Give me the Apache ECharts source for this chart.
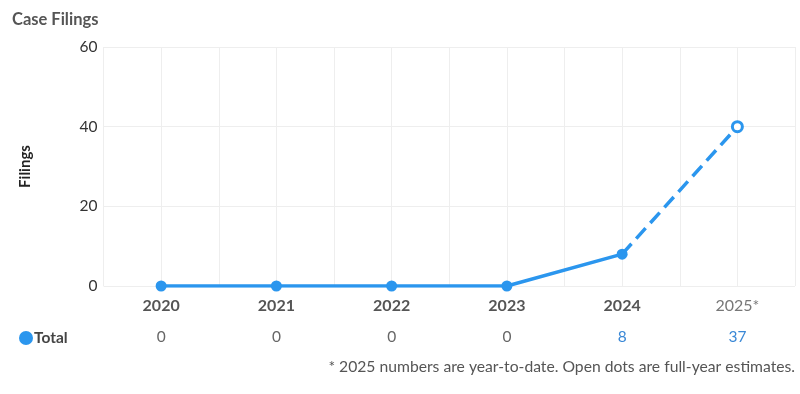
<!DOCTYPE html>
<html><head><meta charset="utf-8">
<script src="https://cdn.jsdelivr.net/npm/echarts@6/dist/echarts.min.js"></script>
<style>html,body{margin:0;padding:0;background:#fff}#c{width:800px;height:394px}</style>
</head><body><div id="c"></div>
<script>
const categories = ['2020','2021','2022','2023','2024','2025*'];
const actualValues = [0,0,0,0,8,null];
const estimateValues = [null,null,null,null,8,40];
const totals = ['0','0','0','0','8','37'];
const yTicks = [0,20,40,60];
const footnote = '* 2025 numbers are year-to-date. Open dots are full-year estimates.';

const BLUE = '#2b96ee';
const chart = echarts.init(document.getElementById('c'));
chart.setOption({
  animation:false,
  textStyle:{fontFamily:'Lato'},
  title:{text:'Case Filings',left:7,top:6,textStyle:{fontFamily:'Lato',fontSize:16.5,fontWeight:'bold',color:'#555'}},
  legend:{data:['Total'],left:14,top:325,icon:'circle',itemWidth:14,itemHeight:14,itemGap:4,
    textStyle:{fontFamily:'Lato',fontSize:15.5,fontWeight:'bold',color:'#444',padding:[0,0,0,-4]}},
  graphic:[{type:'text',right:5,top:359,style:{text:footnote,font:'15.7px Lato',fill:'#555'}}],
  grid:{left:103.5,right:5,top:47,bottom:108},
  xAxis:[
    {type:'category',data:categories,boundaryGap:true,axisLine:{show:false},axisTick:{show:false},splitLine:{show:false},
     axisLabel:{margin:12,fontFamily:'Lato',fontSize:16,
       formatter:(v)=>v.indexOf('*')>=0?'{e|'+v+'}':'{b|'+v+'}',
       rich:{b:{fontFamily:'Lato',fontSize:16,fontWeight:'bold',color:'#555'},
             e:{fontFamily:'Lato',fontSize:16,fontWeight:'normal',color:'#777'}}}},
    {type:'value',min:0,max:12,interval:1,position:'bottom',axisLine:{show:false},axisTick:{show:false},axisLabel:{show:false},
     splitLine:{show:true,lineStyle:{color:'#eeeeee',width:1}}},
    {type:'category',data:totals,position:'bottom',offset:31,boundaryGap:true,axisLine:{show:false},axisTick:{show:false},
     axisLabel:{margin:12,fontFamily:'Lato',fontSize:15.5,color:(v,i)=>(i>=4?'#3a88d6':'#666')}}
  ],
  yAxis:{type:'value',min:yTicks[0],max:yTicks[yTicks.length-1],interval:20,
    name:'Filings',nameLocation:'middle',nameRotate:90,nameGap:71,
    nameTextStyle:{fontFamily:'Lato',fontSize:15,fontWeight:'bold',color:'#222'},
    axisLine:{show:false},axisTick:{show:false},
    axisLabel:{margin:6,fontFamily:'Lato',fontSize:15.5,color:'#333'},
    splitLine:{lineStyle:{color:'#eeeeee',width:1}}},
  series:[
    {name:'Total',type:'line',xAxisIndex:0,data:actualValues,symbol:'circle',symbolSize:11,
     itemStyle:{color:BLUE},lineStyle:{color:BLUE,width:3.5},z:3},
    {name:'Estimate',type:'line',xAxisIndex:0,
     data:estimateValues.map((v,i)=>i===estimateValues.length-1?{value:v,symbol:'circle',symbolSize:10,itemStyle:{color:'#fff',borderColor:BLUE,borderWidth:3}}:{value:v,symbol:'none'}),
     itemStyle:{color:BLUE},lineStyle:{color:BLUE,width:3.5,type:[14,7]},z:2}
  ]
});
</script></body></html>
